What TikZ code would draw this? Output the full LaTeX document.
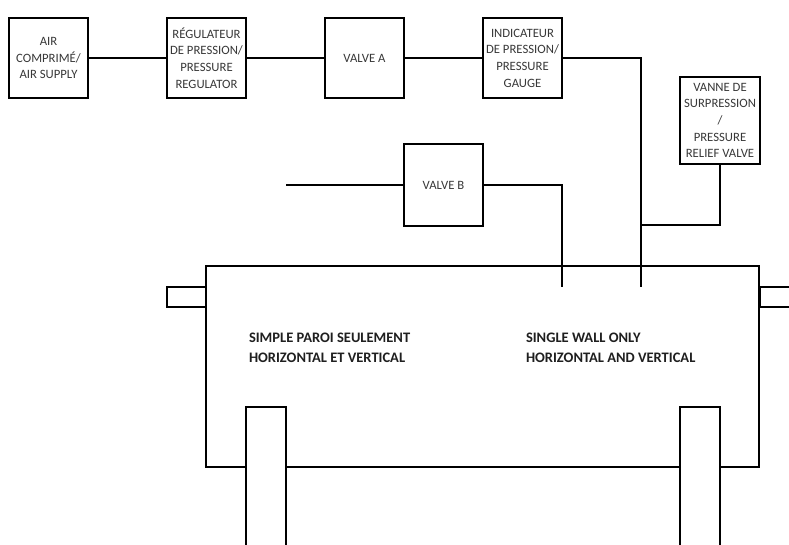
\documentclass[tikz,border=0pt]{standalone}
\usepackage{fontspec}
\setmainfont{Carlito}
\begin{document}
\begin{tikzpicture}[x=1bp,y=-1bp,
  line width=1.8bp,
  unit/.style={draw=black,fill=white,inner sep=0pt,outer sep=0pt,minimum width=79bp,minimum height=80bp,
    align=center,text=black!78,font=\fontsize{12.7bp}{16.7bp}\selectfont},
  part/.style={draw=black,fill=white,inner sep=0pt,outer sep=0pt},
  conn/.style={draw=black},
  note/.style={anchor=north west,inner sep=0pt,outer sep=0pt,align=left,text=black!88,
    font=\fontsize{14.5bp}{19.8bp}\selectfont\bfseries}]
\clip (0,0) rectangle (789,545);
\fill[white] (0,0) rectangle (789,545);
% tank and fittings
\node[part,minimum width=553bp,minimum height=201bp] (tank) at (482.5,366.5) {};
\node[part,minimum width=39bp,minimum height=20bp] (stubL) at (186.5,297) {};
\node[part,minimum width=60bp,minimum height=20bp] (stubR) at (790,297) {};
\node[part,minimum width=40bp,minimum height=160bp] (legL) at (266,487) {};
\node[part,minimum width=40bp,minimum height=160bp] (legR) at (700,487) {};
% equipment
\node[unit] (air) at (48.5,58) {AIR\\COMPRIMÉ/\\AIR SUPPLY};
\node[unit] (reg) at (206.5,58) {RÉGULATEUR\\DE PRESSION/\\PRESSURE\\REGULATOR};
\node[unit] (va) at (364.5,58) {VALVE A};
\node[unit] (gauge) at (522.5,58) {INDICATEUR\\DE PRESSION/\\PRESSURE\\GAUGE};
\node[unit,minimum width=80bp,minimum height=87bp] (relief) at (720,120.5) {VANNE DE\\SURPRESSION\\/\\PRESSURE\\RELIEF VALVE};
\node[unit,minimum height=82bp] (vb) at (443.5,185) {VALVE B};
% free ends
\coordinate (supplyB) at (286,185);
\coordinate (endB) at (562,287);
\coordinate (endG) at (641,287);
\coordinate (tee) at (641,225);
% connectors
\draw[conn] (air.east) -- (reg.west);
\draw[conn] (reg.east) -- (va.west);
\draw[conn] (va.east) -- (gauge.west);
\draw[conn] (gauge.east) -| (endG);
\draw[conn] (supplyB) -- (vb.west);
\draw[conn] (vb.east) -| (endB);
\draw[conn] (relief.south) |- (tee);
% notes
\node[note] (noteFR) at (249,333) {SIMPLE PAROI SEULEMENT\\HORIZONTAL ET VERTICAL};
\node[note] (noteEN) at (526,333) {SINGLE WALL ONLY\\HORIZONTAL AND VERTICAL};
\end{tikzpicture}
\end{document}
